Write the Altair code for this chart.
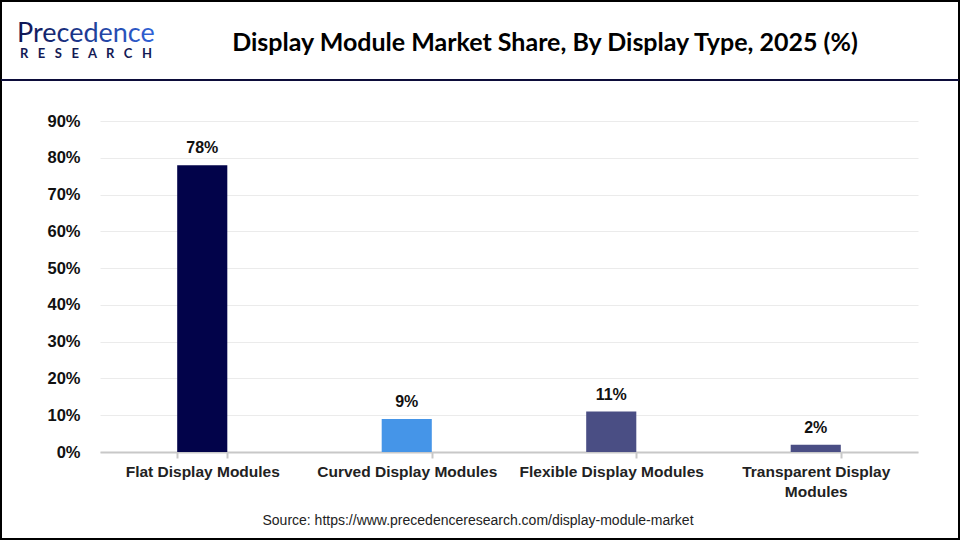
import altair as alt
import pandas as pd

categories = ["Flat Display Modules", "Curved Display Modules", "Flexible Display Modules", "Transparent Display Modules"]
values = [78, 9, 11, 2]
colors = ["#02034a", "#4595e8", "#4a4e84", "#4a4e84"]
y_ticks = [0, 10, 20, 30, 40, 50, 60, 70, 80, 90]

title_text = "Display Module Market Share, By Display Type, 2025 (%)"
source_text = "Source: https://www.precedenceresearch.com/display-module-market"
logo_top = "Precedence"
logo_bottom = "\u00a0\u00a0\u00a0".join("RESEARCH")

df = pd.DataFrame({"cat": categories, "val": values, "color": colors,
                   "lbl": [f"{v}%" for v in values]})

W, H = 818, 331
PL, PT = 100, 121

xenc = alt.X("cat:N", sort=categories, title=None,
             scale=alt.Scale(paddingInner=0.755, paddingOuter=0.3775),
             axis=alt.Axis(labelAngle=0, tickBand="extent", domainColor="#c8c8c8",
                           domainWidth=2, tickColor="#c8c8c8", tickSize=6, tickWidth=2,
                           labelFont="Liberation Sans", labelFontWeight="bold",
                           labelFontSize=15.5, labelColor="#222222", labelPadding=6,
                           labelLimit=300, labelLineHeight=20,
                           labelExpr="datum.label == 'Transparent Display Modules' ? ['Transparent Display', 'Modules'] : datum.label"))
yenc = alt.Y("val:Q", title=None,
             scale=alt.Scale(domain=[0, 90], nice=False),
             axis=alt.Axis(values=y_ticks, labelExpr="datum.value + '%'", domain=False,
                           ticks=False, gridColor="#ebebeb", gridWidth=1, labelOverlap=False,
                           labelFont="Liberation Sans", labelFontWeight="bold",
                           labelFontSize=16.5, labelColor="#111111", labelPadding=20))

bars = alt.Chart(df).mark_bar().encode(
    x=xenc, y=yenc,
    color=alt.Color("color:N", scale=None, legend=None))

labels = alt.Chart(df).mark_text(dy=-17, font="Liberation Sans", fontWeight="bold",
                                 fontSize=16, color="#111111").encode(
    x=xenc, y=yenc, text="lbl:N")

one = pd.DataFrame({"a": [1]})

def abs_text(txt, x, y, **kw):
    return alt.Chart(one).mark_text(**kw).encode(
        x=alt.value(x - PL), y=alt.value(y - PT), text=alt.value(txt))

title = abs_text(title_text, 545, 43, font="Lato", fontWeight="bold",
                 fontSize=25, color="#000000", align="center", baseline="middle")
source = abs_text(source_text, 478, 521, font="Liberation Sans", fontSize=14,
                  color="#222222", align="center", baseline="middle")
logo_grad = alt.Gradient(gradient="linear", x1=0, x2=1, y1=0, y2=0,
                         stops=[alt.GradientStop(offset=0, color="#0d1450"),
                                alt.GradientStop(offset=1, color="#2f63d8")])
logo1 = abs_text(logo_top, 17, 42, font="Lato", fontSize=27, fill=logo_grad,
                 align="left", baseline="alphabetic")
logo2 = abs_text(logo_bottom, 20, 58, font="Lato", fontSize=13,
                 fontWeight="bold", color="#141a55", align="left", baseline="alphabetic")

border = alt.Chart(one).mark_rect(fill=None, stroke="#000000", strokeWidth=2).encode(
    x=alt.value(1 - PL), x2=alt.value(959 - PL), y=alt.value(1 - PT), y2=alt.value(539 - PT))
hline = alt.Chart(one).mark_rule(color="#0c0c3a", strokeWidth=2).encode(
    x=alt.value(1 - PL), x2=alt.value(959 - PL), y=alt.value(80 - PT))

chart = alt.layer(bars, labels, title, source, logo1, logo2, border, hline).properties(
    width=W, height=H,
    padding={"left": PL, "top": PT, "right": 960 - PL - W, "bottom": 540 - PT - H},
    autosize=alt.AutoSizeParams(type="none"),
    background="white"
).configure_view(stroke=None)

chart.save("out.html", embed_options={"renderer": "svg", "actions": False})
